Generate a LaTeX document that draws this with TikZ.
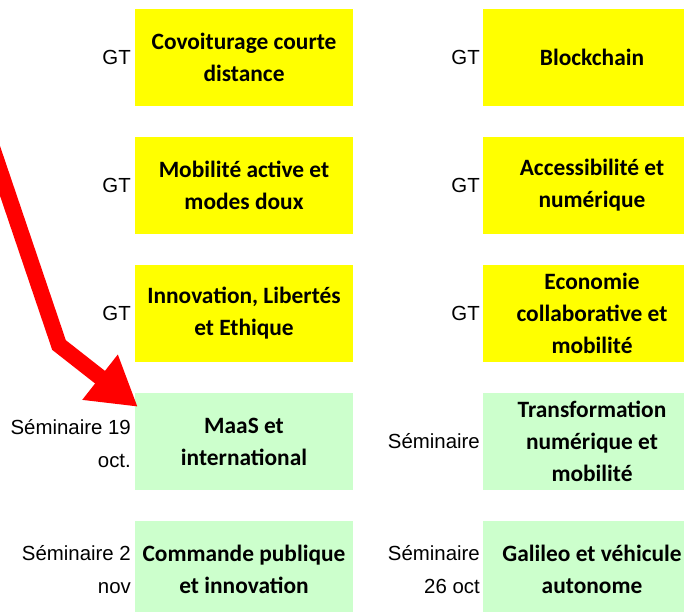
\documentclass[tikz,border=0pt]{standalone}
\usepackage{fontspec}
\setmainfont{Carlito}
\newfontfamily\arialf{Liberation Sans}
\usetikzlibrary{arrows.meta,calc}
\definecolor{gtyellow}{HTML}{FFFF00}
\definecolor{semgreen}{HTML}{CCFFCC}
\definecolor{arrowred}{HTML}{FF0000}
\begin{document}
\begin{tikzpicture}[x=1pt,y=-1pt,
  box/.style={minimum width=218pt,minimum height=97pt,inner sep=0pt,align=center,
    font=\fontsize{23.4}{32}\selectfont\bfseries},
  gt/.style={box,fill=gtyellow},
  sem/.style={box,fill=semgreen},
  lab/.style={anchor=east,align=right,inner sep=0pt,font=\arialf\fontsize{20.4}{33}\selectfont},
  bigarrow/.style={draw=arrowred,line width=16pt,line join=miter,
    -{Triangle[length=48pt,width=54pt,fill=arrowred]}}]
\useasboundingbox (0,0) rectangle (684,611);
\clip (0,0) rectangle (684,611);
% left column
\node[gt]  (b1) at (244,57.5)  {Covoiturage courte\\distance};
\node[gt]  (b2) at (244,185.5) {Mobilité active et\\modes doux};
\node[gt]  (b3) at (244,313.5) {Innovation, Libertés\\et Ethique};
\node[sem] (b4) at (244,441.5) {MaaS et\\international};
\node[sem] (b5) at (244,569.5) {Commande publique\\et innovation};
% right column
\node[gt]  (c1) at (592,57.5)  {Blockchain};
\node[gt]  (c2) at (592,185.5) {Accessibilité et\\numérique};
\node[gt]  (c3) at (592,313.5) {Economie\\collaborative et\\mobilité};
\node[sem] (c4) at (592,441.5) {Transformation\\numérique et\\mobilité};
\node[sem] (c5) at (592,569.5) {Galileo et véhicule\\autonome};
% labels left
\node[lab] (l1) at (131,57.5)  {GT};
\node[lab] (l2) at (131,185.5) {GT};
\node[lab] (l3) at (131,313.5) {GT};
\node[lab] (l4) at (131,444)   {Séminaire 19\\oct.};
\node[lab] (l5) at (131,570)   {Séminaire 2\\nov};
% labels right
\node[lab] (r1) at (480,57.5)  {GT};
\node[lab] (r2) at (480,185.5) {GT};
\node[lab] (r3) at (480,313.5) {GT};
\node[lab] (r4) at (480,441.5) {Séminaire};
\node[lab] (r5) at (480,570)   {Séminaire\\26 oct};
% arrow
\coordinate (astart) at (-24,100);
\coordinate (abend) at (59,345);
\coordinate (atip) at ($(b4.north west)+(3,14)$);
\draw[bigarrow] (astart) -- (abend) -- (atip);
\end{tikzpicture}
\end{document}
